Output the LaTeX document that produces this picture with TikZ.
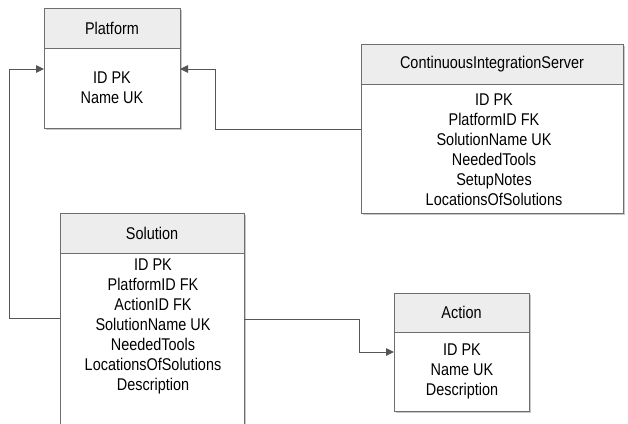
\documentclass[tikz,border=0pt]{standalone}
\usepackage{fontspec}
\setmainfont{Liberation Sans}[FakeStretch=0.85]
\usetikzlibrary{arrows.meta}

\definecolor{edgegray}{HTML}{6E6E6E}
\definecolor{headfill}{HTML}{EDEDED}
\definecolor{wire}{HTML}{555555}
\definecolor{shade}{HTML}{C8C8C8}

\tikzset{
  entity/.style={draw=edgegray, line width=0.9pt, fill=white, inner sep=0pt, outer sep=0pt, anchor=north west},
  header/.style={draw=edgegray, line width=0.9pt, fill=headfill, inner sep=0pt, outer sep=0pt,
                 anchor=north west, minimum height=40pt, font=\fontsize{17}{20}\selectfont},
  body/.style={align=center, inner sep=0pt, font=\fontsize{17}{20}\selectfont, text=black},
  drop/.style={fill=shade},
  conn/.style={draw=wire, line width=0.9pt},
  link/.style={conn, -{Triangle[length=8pt, width=7.5pt]}},
}

\begin{document}
\begin{tikzpicture}[x=1pt, y=-1pt]
  \clip (0,0) rectangle (628,423);
  \fill[white] (0,0) rectangle (628,423);

  % Platform
  \fill[drop] (46,10) rectangle (182,130);
  \node[entity, minimum width=136pt, minimum height=120pt] (platform) at (44,8) {};
  \node[header, minimum width=136pt] (platformH) at (44,8) {Platform};
  \node[body] (platformB) at (112,88) {ID PK\\Name UK};

  % ContinuousIntegrationServer
  \fill[drop] (363,46) rectangle (625,215);
  \node[entity, minimum width=262pt, minimum height=169pt] (cis) at (361,44) {};
  \node[header, minimum width=262pt] (cisH) at (361,44) {ContinuousIntegrationServer};
  \node[body] (cisB) at (494,150) {ID PK\\PlatformID FK\\SolutionName UK\\NeededTools\\SetupNotes\\LocationsOfSolutions};

  % Solution
  \fill[drop] (62,215) rectangle (246,450);
  \node[entity, minimum width=184pt, minimum height=235pt] (solution) at (60,213) {};
  \node[header, minimum width=184pt] (solutionH) at (60,213) {Solution};
  \node[body] (solutionB) at (153,326.5) {ID PK\\PlatformID FK\\ActionID FK\\SolutionName UK\\NeededTools\\LocationsOfSolutions\\Description};

  % Action
  \fill[drop] (396,295) rectangle (531,413);
  \node[entity, minimum width=135pt, minimum height=118pt] (action) at (394,293) {};
  \node[header, minimum width=135pt, minimum height=39pt] (actionH) at (394,293) {Action};
  \node[body] (actionB) at (462,371) {ID PK\\Name UK\\Description};

  % Connector bends
  \coordinate (a1) at (9,318);
  \coordinate (a2) at (9,69);
  \coordinate (b1) at (215,129);
  \coordinate (b2) at (215,69);
  \coordinate (c1) at (359,319);
  \coordinate (c2) at (359,352);

  % Solution -> Platform
  \draw[link] (solution.west |- a1) -- (a1) -- (a2) -- (platform.west |- a2);
  % ContinuousIntegrationServer -> Platform
  \draw[link] (cis.west |- b1) -- (b1) -- (b2) -- (platform.east |- b2);
  % Solution -> Action
  \draw[link] (solution.east |- c1) -- (c1) -- (c2) -- (action.west |- c2);
\end{tikzpicture}
\end{document}
